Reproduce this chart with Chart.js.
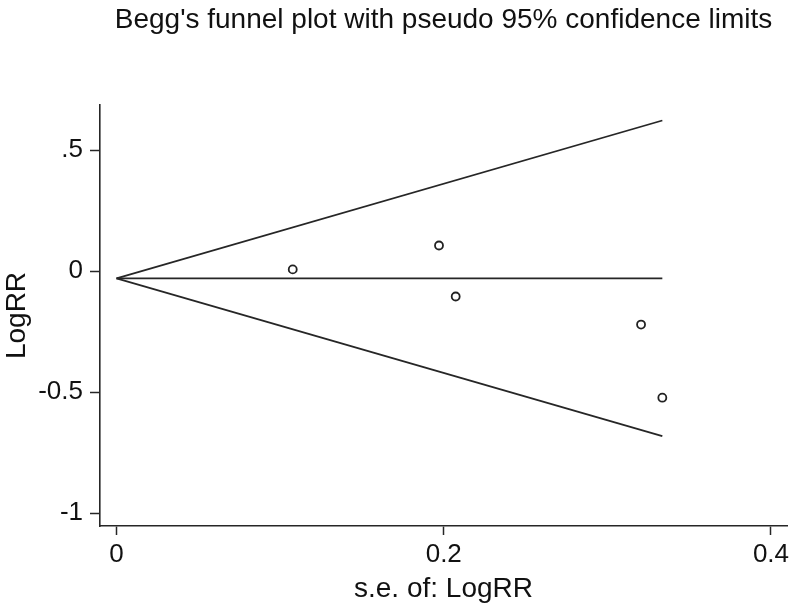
<!DOCTYPE html>
<html>
<head>
<meta charset="utf-8">
<script src="https://cdn.jsdelivr.net/npm/chart.js@4"></script>
<style>
    body { margin: 0; background: #fff; }
    canvas { display: block; }
</style>
</head>
<body>
<canvas id="grafica" width="800" height="606"></canvas>
<script>
// Studies (s.e. of LogRR, LogRR)
const seStudies = [0.1077, 0.1971, 0.2073, 0.3206, 0.3336];
const logRR = [0.007, 0.1057, -0.105, -0.2208, -0.523];

// Pseudo 95% confidence limits
const seFunnel = [0, 0.3336];
const funnelUpper = [-0.03, 0.622];
const funnelCenter = [-0.03, -0.03];
const funnelLower = [-0.03, -0.682];

// Ticks
const xTickValues = [0, 0.2, 0.4];
const xTickLabels = ['0', '0.2', '0.4'];
const yTickValues = [-1, -0.5, 0, 0.5];
const yTickLabels = ['-1', '-0.5', '0', '.5'];

const tituloGrafica = "Begg's funnel plot with pseudo 95% confidence limits";
const fuente = '"Liberation Sans", Arial, sans-serif';
const colorLinea = '#262626';

function puntos(xs, ys) {
    return xs.map((x, i) => ({ x: x, y: ys[i] }));
}

function lineaFunnel(ys) {
    return {
        data: puntos(seFunnel, ys),
        showLine: true,
        borderColor: colorLinea,
        borderWidth: 1.8,
        pointRadius: 0,
        fill: false
    };
}

// Title centered over the plot area
const pluginTitulo = {
    id: 'titulo',
    afterDraw(chart) {
        const ctx = chart.ctx;
        const area = chart.chartArea;
        ctx.save();
        ctx.font = '28px ' + fuente;
        ctx.fillStyle = '#111';
        ctx.textAlign = 'center';
        ctx.textBaseline = 'alphabetic';
        ctx.fillText(tituloGrafica, (area.left + area.right) / 2, 28);
        ctx.restore();
    }
};

new Chart(document.getElementById('grafica'), {
    type: 'scatter',
    data: {
        datasets: [
            lineaFunnel(funnelUpper),
            lineaFunnel(funnelCenter),
            lineaFunnel(funnelLower),
            {
                data: puntos(seStudies, logRR),
                pointRadius: 4,
                pointBorderWidth: 1.8,
                pointBackgroundColor: '#fff',
                pointBorderColor: '#222',
                showLine: false
            }
        ]
    },
    options: {
        responsive: false,
        animation: false,
        devicePixelRatio: 1,
        layout: { padding: { top: 105, right: 13, left: 0, bottom: 0 } },
        plugins: {
            legend: { display: false },
            tooltip: { enabled: false }
        },
        scales: {
            x: {
                type: 'linear',
                min: -0.0101,
                max: 0.4098,
                afterBuildTicks: (scale) => { scale.ticks = xTickValues.map(v => ({ value: v })); },
                afterFit: (scale) => { scale.height = 80; },
                ticks: {
                    callback: (v) => xTickLabels[xTickValues.indexOf(v)],
                    color: '#111',
                    font: { family: fuente, size: 26 },
                    padding: 4,
                    maxRotation: 0
                },
                grid: { drawOnChartArea: false, tickLength: 9, tickColor: colorLinea, tickWidth: 1.5 },
                border: { display: true, color: colorLinea, width: 1.6 },
                title: {
                    display: true,
                    text: 's.e. of: LogRR',
                    color: '#111',
                    font: { family: fuente, size: 28 },
                    padding: 0
                }
            },
            y: {
                type: 'linear',
                min: -1.053,
                max: 0.686,
                afterBuildTicks: (scale) => { scale.ticks = yTickValues.map(v => ({ value: v })); },
                afterFit: (scale) => { scale.width = 100; },
                ticks: {
                    callback: (v) => yTickLabels[yTickValues.indexOf(v)],
                    color: '#111',
                    font: { family: fuente, size: 26 },
                    padding: 7
                },
                grid: { drawOnChartArea: false, tickLength: 10, tickColor: colorLinea, tickWidth: 1.5 },
                border: { display: true, color: colorLinea, width: 1.6 },
                title: {
                    display: true,
                    text: 'LogRR',
                    color: '#111',
                    font: { family: fuente, size: 28 },
                    padding: 0
                }
            }
        }
    },
    plugins: [pluginTitulo]
});
</script>
</body>
</html>
